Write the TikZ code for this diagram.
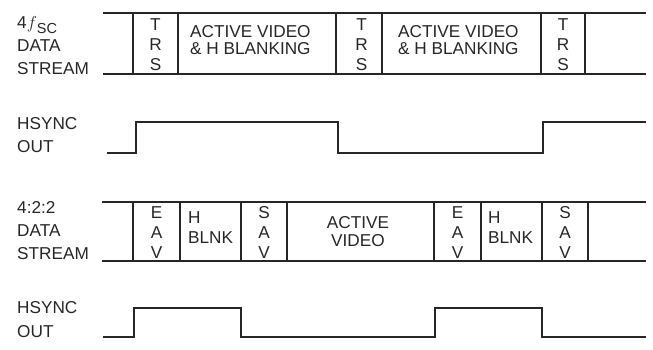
\documentclass[tikz,border=0pt]{standalone}
\usepackage{fontspec}
\setmainfont{Liberation Sans}
\begin{document}
\begin{tikzpicture}[x=1pt,y=-1pt,
  txt/.style={inner sep=0pt, text=black!85, font=\fontsize{17.2}{19}\selectfont},
  lbl/.style={txt, anchor=base west},
  ctr/.style={txt, anchor=base},
  rail/.style={line width=1.1pt, draw=black!85},
  wave/.style={line width=1.1pt, draw=black!85, line join=miter}]
\useasboundingbox (0,0) rectangle (653,349);

% ---------- top 4fsc data stream ----------
\draw[rail] (103,13) -- (646,13);
\draw[rail] (103,74) -- (646,74);
\foreach \x in {133,178,336,382,541,585} \draw[rail] (\x,13) -- (\x,74);

\node[lbl] (l1a) at (17,28.5) {4$f$\raisebox{-5pt}{\fontsize{14.5}{14}\selectfont SC}};
\node[lbl] (l1b) at (17,51) {DATA};
\node[lbl] (l1c) at (17,74) {STREAM};

\foreach \c [count=\i] in {155.5,361.5,563} {
  \node[ctr] (t\i) at (\c,30) {T};
  \node[ctr] (r\i) at (\c,50.5) {R};
  \node[ctr] (s\i) at (\c,70) {S};
}
\node[lbl] (av1a) at (190,37.5) {ACTIVE VIDEO};
\node[lbl] (av1b) at (190,54.5) {\& H BLANKING};
\node[lbl] (av2a) at (398,37.5) {ACTIVE VIDEO};
\node[lbl] (av2b) at (398,54.5) {\& H BLANKING};

% ---------- top HSYNC ----------
\node[lbl] (h1a) at (17,129) {HSYNC};
\node[lbl] (h1b) at (17,152) {OUT};
\draw[wave] (107,153) -- (136,153) -- (136,122) -- (338,122) -- (338,153)
  -- (543,153) -- (543,122) -- (646,122);

% ---------- bottom 4:2:2 data stream ----------
\draw[rail] (102,202) -- (646,202);
\draw[rail] (102,261) -- (646,261);
\foreach \x in {133,180,241,287,434,481,542,588} \draw[rail] (\x,202) -- (\x,261);

\node[lbl] (l2a) at (17,213) {4:2:2};
\node[lbl] (l2b) at (17,236) {DATA};
\node[lbl] (l2c) at (17,259) {STREAM};

\foreach \c/\n/\a in {156.5/e1/E,264/s1/S,457.5/e2/E,565/s2/S} {
  \node[ctr] (\n a) at (\c,218) {\a};
  \node[ctr] (\n b) at (\c,238) {A};
  \node[ctr] (\n c) at (\c,258) {V};
}
\node[lbl] (hb1a) at (188,223) {H};
\node[lbl] (hb1b) at (188,243) {BLNK};
\node[lbl] (hb2a) at (488,223) {H};
\node[lbl] (hb2b) at (488,243) {BLNK};
\node[ctr] (ava) at (358,228) {ACTIVE};
\node[ctr] (avb) at (358,246) {VIDEO};

% ---------- bottom HSYNC ----------
\node[lbl] (h2a) at (17,313) {HSYNC};
\node[lbl] (h2b) at (17,337) {OUT};
\draw[wave] (103,337) -- (134,337) -- (134,308) -- (241,308) -- (241,337)
  -- (435,337) -- (435,308) -- (542,308) -- (542,337) -- (646,337);
\end{tikzpicture}
\end{document}
